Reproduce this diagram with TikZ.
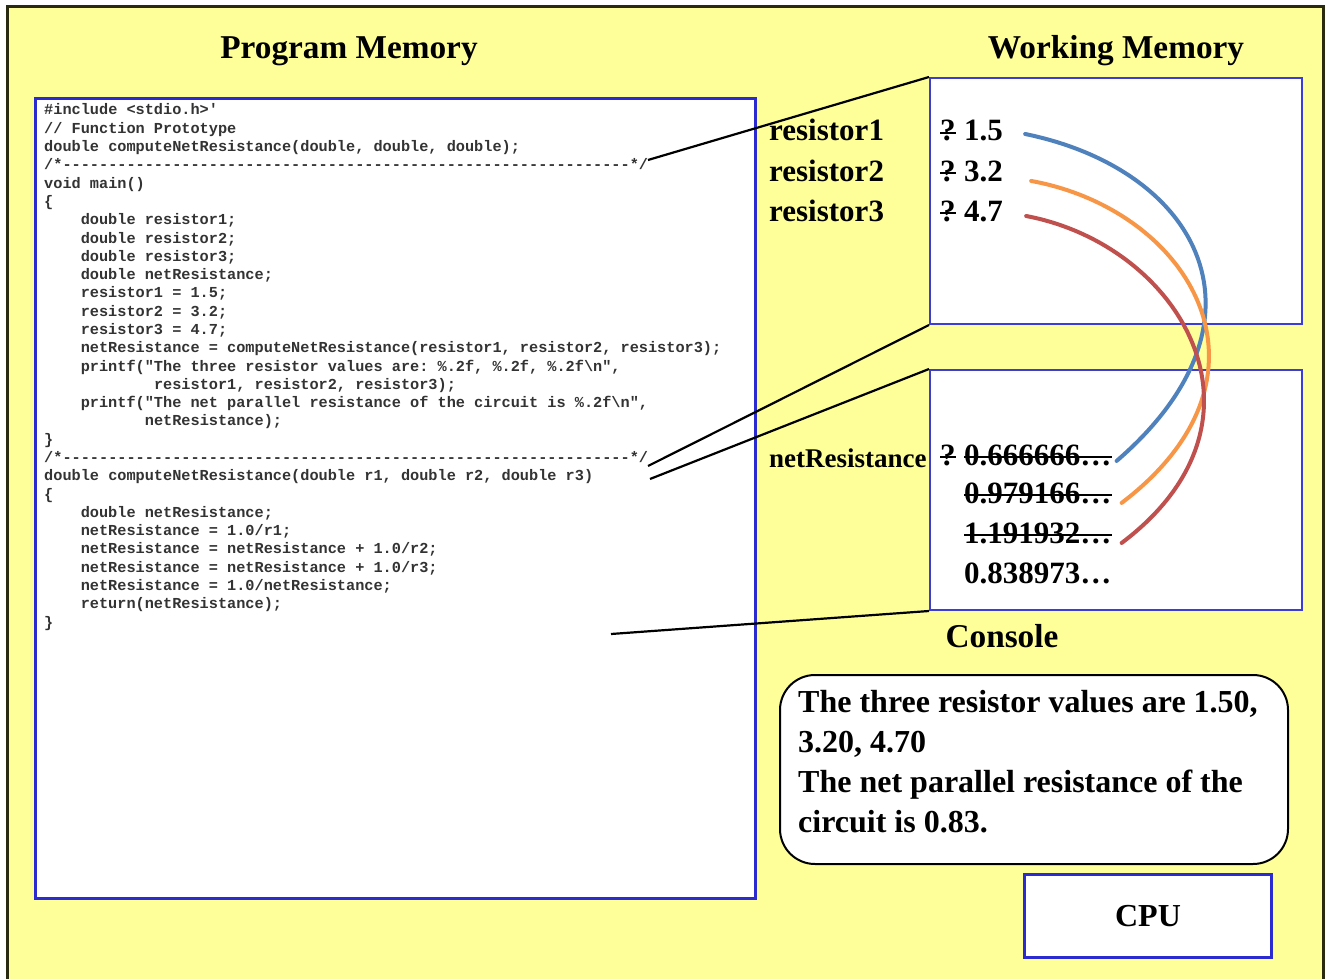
\documentclass[tikz,border=0pt]{standalone}
\usepackage{fontspec}
\setmainfont{Liberation Serif}
\setmonofont{Liberation Mono}
\definecolor{bgyellow}{HTML}{FFFF99}
\definecolor{bgborder}{HTML}{2A2A10}
\definecolor{boxblue}{HTML}{2B2BD0}
\definecolor{memblue}{HTML}{3D3DD6}
\definecolor{codegray}{HTML}{333333}
\definecolor{cblue}{HTML}{4F81BD}
\definecolor{corange}{HTML}{F79646}
\definecolor{cred}{HTML}{C0504D}
\newcommand{\IndA}{\hspace*{2.4em}}
\begin{document}
\begin{tikzpicture}[x=1pt,y=-1pt,
  title/.style={font=\bfseries\fontsize{33.3}{40}\selectfont, anchor=base, inner sep=0},
  lbl/.style={font=\bfseries\fontsize{31}{37}\selectfont, anchor=base west, inner sep=0},
  conlbl/.style={font=\bfseries\fontsize{32}{38}\selectfont, anchor=base west, inner sep=0},
  lblsmall/.style={font=\bfseries\fontsize{27}{32}\selectfont, anchor=base west, inner sep=0},
  codeline/.style={font=\ttfamily\bfseries\fontsize{15.25}{18.3}\selectfont, anchor=base west, inner sep=0, text=codegray},
  progbox/.style={draw=boxblue, line width=3, fill=white, anchor=north west, inner sep=0},
  membox/.style={draw=memblue, line width=2, fill=white, anchor=north west, inner sep=0},
  wire/.style={line width=2.2, black},
  strike/.style={line width=2, black},
  flow/.style={line width=4, line cap=round}]
\useasboundingbox (0,0) rectangle (1325,979);
\fill[white] (0,0) rectangle (1325,979);
\draw[line width=3, draw=bgborder, fill=bgyellow] (7,7) rectangle (1323,981);

% titles
\node[title] (tprog) at (349,59) {Program Memory};
\node[title] (twork) at (1116,59) {Working Memory};

% program memory box and code
\node[progbox, minimum width=720, minimum height=800] (prog) at (34,97) {};
\foreach \t [count=\i] in {
 {\#include <stdio.h>'},
 {// Function Prototype},
 {double computeNetResistance(double, double, double);},
 {/*--------------------------------------------------------------*/},
 {void main()},
 {\{},
 {\IndA double resistor1;},
 {\IndA double resistor2;},
 {\IndA double resistor3;},
 {\IndA double netResistance;},
 {\IndA resistor1 = 1.5;},
 {\IndA resistor2 = 3.2;},
 {\IndA resistor3 = 4.7;},
 {\IndA netResistance = computeNetResistance(resistor1, resistor2, resistor3);},
 {\IndA printf("The three resistor values are: \%.2f, \%.2f, \%.2f\textbackslash n",},
 {\hspace*{7.2em}resistor1, resistor2, resistor3);},
 {\IndA printf("The net parallel resistance of the circuit is \%.2f\textbackslash n",},
 {\hspace*{6.6em}netResistance);},
 {\}},
 {/*--------------------------------------------------------------*/},
 {double computeNetResistance(double r1, double r2, double r3)},
 {\{},
 {\IndA double netResistance;},
 {\IndA netResistance = 1.0/r1;},
 {\IndA netResistance = netResistance + 1.0/r2;},
 {\IndA netResistance = netResistance + 1.0/r3;},
 {\IndA netResistance = 1.0/netResistance;},
 {\IndA return(netResistance);},
 {\}}
}{
  \node[codeline] (code\i) at (44,{115+(\i-1)*18.29}) {\t};
}

% working memory boxes
\node[membox, minimum width=372, minimum height=246] (wm) at (929,77) {};
\node[membox, minimum width=372, minimum height=240] (cm) at (929,369) {};

% labels
\node[lbl] (r1) at (769,141) {resistor1};
\node[lbl] (r2) at (769,181) {resistor2};
\node[lbl] (r3) at (769,221) {resistor3};
\node[lblsmall] (nr) at (769,467) {netResistance};

\node[lbl] (q1) at (940,141) {?};
\node[lbl] (q2) at (940,181) {?};
\node[lbl] (q3) at (940,221) {?};
\node[lbl] (v1) at (964,141) {1.5};
\node[lbl] (v2) at (964,181) {3.2};
\node[lbl] (v3) at (964,221) {4.7};

\node[lbl] (q4) at (940,465) {?};
\node[lbl] (n1) at (964,465) {0.666666…};
\node[lbl] (n2) at (964,503) {0.979166…};
\node[lbl] (n3) at (964,543) {1.191932…};
\node[lbl] (n4) at (964,583) {0.838973…};

\foreach \n in {q1,q2,q3,q4,n1,n2,n3}{
  \draw[strike] ([yshift=-2]\n.west) -- ([yshift=-2]\n.east);
}

% connector lines from code to memory
\coordinate (c1) at (648,160);
\coordinate (c2) at (648,466);
\coordinate (c3) at (650,479);
\coordinate (c4) at (611,634);
\draw[wire] (c1) -- (wm.north west);
\draw[wire] (c2) -- (wm.south west);
\draw[wire] (c3) -- (cm.north west);
\draw[wire] (c4) -- (cm.south west);

% coloured flow curves
\draw[flow, cblue] ([shift={(22,3)}]v1.east) .. controls (1200,170) and (1280,320) .. ([shift={(5,6)}]n1.east);
\draw[flow, corange] ([shift={(28,10)}]v2.east) .. controls (1190,210) and (1290,375) .. ([shift={(10,10)}]n2.east);
\draw[flow, cred] ([shift={(23,5)}]v3.east) .. controls (1180,245) and (1285,420) .. ([shift={(10,10)}]n3.east);

% console
\node[title] (tcon) at (1002,647) {Console};
\node[draw, line width=2, rounded corners=35, fill=white, anchor=north west, minimum width=508, minimum height=189, inner sep=0] (out) at (779,674) {};
\node[conlbl] (o1) at (798,712) {The three resistor values are 1.50,};
\node[conlbl] (o2) at (798,752) {3.20, 4.70};
\node[conlbl] (o3) at (798,792) {The net parallel resistance of the};
\node[conlbl] (o4) at (798,832) {circuit is 0.83.};

% CPU
\node[progbox, minimum width=247, minimum height=83, font=\bfseries\fontsize{32}{38}\selectfont] (cpu) at (1023,873) {CPU};
\end{tikzpicture}
\end{document}
